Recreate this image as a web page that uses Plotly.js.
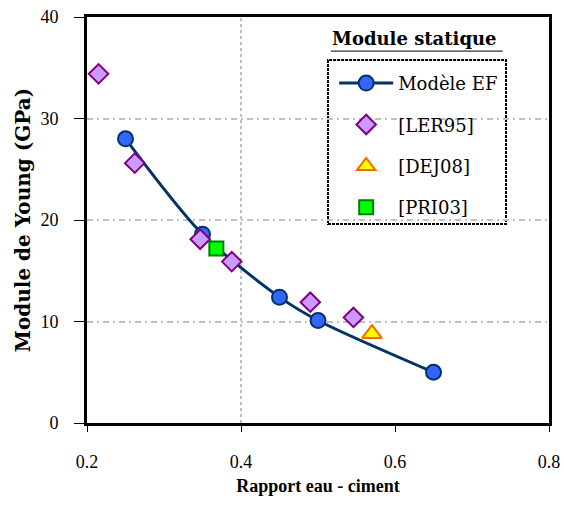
<!DOCTYPE html>
<html>
<head>
<meta charset="utf-8">
<script src="https://cdn.plot.ly/plotly-3.0.1.min.js"></script>
<style>html,body{margin:0;padding:0;background:#fff;}#chart{width:564px;height:512px;}</style>
</head>
<body>
<div id="chart"></div>
<script>
// Data
const efX = [0.25, 0.35, 0.45, 0.50, 0.65];
const efY = [28.0, 18.6, 12.4, 10.1, 5.0];
const lerX = [0.215, 0.262, 0.347, 0.388, 0.490, 0.546];
const lerY = [34.4, 25.6, 18.1, 15.9, 11.9, 10.4];
const dejX = [0.570];
const dejY = [8.8];
const priX = [0.368];
const priY = [17.2];
const seriesNames = ['Modèle EF', '[LER95]', '[DEJ08]', '[PRI03]'];
const xTicks = [0.2, 0.4, 0.6, 0.8];
const xTickText = ['0.2', '0.4', '0.6', '0.8'];
const yTicks = [0, 10, 20, 30, 40];

const FONT = 'Liberation Serif, DejaVu Serif, serif';
const WIDE = 'DejaVu Serif, Liberation Serif, serif';

const traces = [
  {x: efX, y: efY, name: seriesNames[0], mode: 'lines+markers', legendgroup: 'a',
   line: {color: '#003366', width: 3, shape: 'spline', smoothing: 0.8},
   marker: {symbol: 'circle', size: 15, color: '#3366ff', line: {color: '#003366', width: 2}}},
  {x: lerX, y: lerY, name: seriesNames[1], mode: 'markers', legendgroup: 'b',
   marker: {symbol: 'diamond', size: 15, color: '#cc99ff', line: {color: '#800080', width: 2}}},
  {x: dejX, y: dejY, name: seriesNames[2], mode: 'markers', legendgroup: 'c',
   marker: {symbol: 'triangle-up', size: 17, color: '#ffff00', line: {color: '#ff6600', width: 2}}},
  {x: priX, y: priY, name: seriesNames[3], mode: 'markers', legendgroup: 'd',
   marker: {symbol: 'square', size: 14, color: '#00ff00', line: {color: '#008000', width: 2}}}
];

const layout = {
  width: 564, height: 512,
  margin: {l: 87, r: 15, t: 17, b: 89},
  paper_bgcolor: '#ffffff', plot_bgcolor: '#ffffff',
  font: {family: FONT, color: '#000', size: 17},
  showlegend: true,
  legend: {
    x: 0.535, y: 0.882, xanchor: 'left', yanchor: 'top',
    bgcolor: 'rgba(0,0,0,0)', borderwidth: 0,
    font: {family: WIDE, size: 18, color: '#000'},
    itemwidth: 54,
    traceorder: 'grouped', tracegroupgap: 15
  },
  xaxis: {
    range: [0.2, 0.8], tickvals: xTicks, ticktext: xTickText,
    showline: true, linecolor: '#000', linewidth: 3, mirror: true,
    ticks: 'outside', ticklen: 6, tickwidth: 1, tickcolor: '#000',
    ticklabelstandoff: 14,
    showgrid: false, zeroline: false,
    tickfont: {family: FONT, size: 18, color: '#000'},
    title: {text: '<b>Rapport eau - ciment</b>', font: {family: FONT, size: 18, color: '#000'}, standoff: 9}
  },
  yaxis: {
    range: [0, 40], tickvals: yTicks,
    showline: true, linecolor: '#000', linewidth: 3, mirror: true,
    ticks: 'outside', ticklen: 10, tickwidth: 1, tickcolor: '#000',
    ticklabelstandoff: 12,
    showgrid: true, gridcolor: '#c0c0c0', gridwidth: 2, griddash: '6px,4px,2px,4px',
    zeroline: false,
    tickfont: {family: FONT, size: 18, color: '#000'},
    title: {text: '<b>Module de Young (GPa)</b>', font: {family: WIDE, size: 20, color: '#000'}, standoff: 5}
  },
  shapes: [
    {type: 'line', xref: 'x', yref: 'paper', x0: 0.4, x1: 0.4, y0: 0, y1: 1, layer: 'below',
     line: {color: '#c0c0c0', width: 2, dash: '3px,3px'}},
    {type: 'rect', xref: 'paper', yref: 'paper', x0: 0.5216, x1: 0.907, y0: 0.490, y1: 0.894,
     fillcolor: '#ffffff', layer: 'between', line: {color: '#000', width: 2, dash: '3px,1px'}},
    {type: 'line', xref: 'paper', yref: 'paper', x0: 0.528, x1: 0.900, y0: 0.916, y1: 0.916,
     line: {color: '#000', width: 1}}
  ],
  annotations: [
    {xref: 'paper', yref: 'paper', x: 0.708, y: 0.948, xanchor: 'center', yanchor: 'middle',
     showarrow: false, text: '<b>Module statique</b>', font: {family: WIDE, size: 18, color: '#000'}}
  ]
};

Plotly.newPlot('chart', traces, layout, {displayModeBar: false, staticPlot: true});
</script>
</body>
</html>
